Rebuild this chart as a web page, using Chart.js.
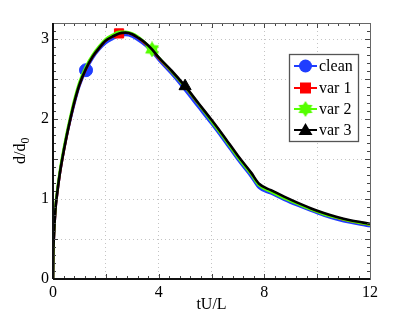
<!DOCTYPE html>
<html lang="en">
<head>
    <meta charset="UTF-8">
    <title>d/d0 vs tU/L</title>
    <script src="https://cdn.jsdelivr.net/npm/chart.js"></script>
    <style>
        html, body { margin: 0; padding: 0; background: #ffffff; }
        #wrap { width: 409px; height: 315px; }
    </style>
</head>
<body>
    <div id="wrap"><canvas id="chart" width="409" height="315"></canvas></div>

    <script>
        // data
        const xs = [0, 0.01, 0.03, 0.06, 0.1, 0.15, 0.25, 0.35, 0.5, 0.65, 0.8, 1.0, 1.25, 1.5, 1.75, 2.0, 2.25, 2.5, 2.75, 3.0, 3.25, 3.5, 3.75, 4.0, 4.5, 5.0, 5.5, 6.0, 6.5, 7.0, 7.5, 7.8, 8.25, 8.75, 9.25, 9.75, 10.25, 10.75, 11.25, 11.75, 12.0];
        const cleanVals = [0, 0.3, 0.5, 0.7, 0.9, 1.05, 1.3, 1.5, 1.76, 1.98, 2.18, 2.41, 2.61, 2.76, 2.87, 2.95, 3.0, 3.04, 3.05, 3.03, 2.98, 2.92, 2.84, 2.74, 2.56, 2.36, 2.15, 1.94, 1.72, 1.49, 1.28, 1.14, 1.07, 0.99, 0.92, 0.855, 0.795, 0.745, 0.705, 0.675, 0.66];
        const var1Vals = [0, 0.3, 0.5, 0.7, 0.9, 1.05, 1.3, 1.5, 1.76, 1.99, 2.2, 2.43, 2.63, 2.78, 2.89, 2.98, 3.03, 3.07, 3.08, 3.06, 3.01, 2.94, 2.86, 2.76, 2.59, 2.4, 2.19, 1.98, 1.76, 1.53, 1.32, 1.18, 1.1, 1.02, 0.945, 0.875, 0.815, 0.765, 0.725, 0.695, 0.68];
        const var2Vals = [0, 0.32, 0.53, 0.73, 0.93, 1.08, 1.33, 1.53, 1.79, 2.02, 2.23, 2.46, 2.66, 2.8, 2.91, 3.0, 3.05, 3.09, 3.09, 3.07, 3.02, 2.95, 2.87, 2.77, 2.59, 2.4, 2.19, 1.97, 1.75, 1.52, 1.31, 1.17, 1.09, 1.01, 0.94, 0.87, 0.81, 0.765, 0.725, 0.695, 0.68];
        const var3Vals = [0, 0.3, 0.5, 0.7, 0.9, 1.05, 1.3, 1.5, 1.76, 1.99, 2.2, 2.43, 2.63, 2.78, 2.89, 2.98, 3.03, 3.07, 3.08, 3.06, 3.01, 2.95, 2.87, 2.77, 2.6, 2.41, 2.2, 1.99, 1.77, 1.54, 1.33, 1.19, 1.11, 1.03, 0.955, 0.885, 0.825, 0.775, 0.735, 0.705, 0.69];
        const seriesNames = ['clean', 'var 1', 'var 2', 'var 3'];
        const markerAt = [1.25, 2.5, 3.75, 5.0];
        const xTickLabels = [0, 4, 8, 12];
        const yTickLabels = [0, 1, 2, 3];

        const FONT = '"Liberation Serif", "Times New Roman", serif';
        const colors = ['#1f3dff', '#ff0000', '#55ff00', '#000000'];

        // filled six point star (MATLAB hexagram look)
        function makeStar(size, color) {
            const c = document.createElement('canvas');
            c.width = size; c.height = size;
            const g = c.getContext('2d');
            const cx = size / 2, cy = size / 2, ro = size / 2, ri = size / 3.3;
            g.beginPath();
            for (let i = 0; i < 12; i++) {
                const a = -Math.PI / 2 + i * Math.PI / 6;
                const r = i % 2 === 0 ? ro : ri;
                g.lineTo(cx + r * Math.cos(a), cy + r * Math.sin(a));
            }
            g.closePath();
            g.fillStyle = color;
            g.fill();
            return c;
        }
        const starImg = makeStar(16, colors[2]);

        const styles = ['circle', 'rect', starImg, 'triangle'];
        const radii = [6.5, 6.5, 8, 7];
        const allVals = [cleanVals, var1Vals, var2Vals, var3Vals];

        const datasets = seriesNames.map((name, k) => ({
            label: name,
            data: xs.map((x, i) => ({ x: x, y: allVals[k][i] })),
            borderColor: colors[k],
            backgroundColor: colors[k],
            borderWidth: 2.6,
            pointStyle: styles[k],
            pointRadius: xs.map(x => x === markerAt[k] ? radii[k] : 0),
            pointBorderWidth: 1,
            pointBorderColor: colors[k],
            pointBackgroundColor: colors[k],
            cubicInterpolationMode: 'monotone',
            order: 3 - k
        }));

        // inward major/minor ticks on all four sides, box, titles and legend
        const framePlugin = {
            id: 'frame',
            afterDraw(chart) {
                const ctx = chart.ctx;
                const a = chart.chartArea;
                const sx = chart.scales.x, sy = chart.scales.y;
                ctx.save();
                ctx.strokeStyle = '#444';
                ctx.lineWidth = 1;
                for (let v = 0; v <= 12.001; v += 0.4) {
                    const px = Math.round(sx.getPixelForValue(v)) + 0.5;
                    const major = Math.abs(v / 2 - Math.round(v / 2)) < 0.01;
                    const len = major ? 5 : 3;
                    ctx.beginPath();
                    ctx.moveTo(px, a.bottom); ctx.lineTo(px, a.bottom - len);
                    ctx.moveTo(px, a.top); ctx.lineTo(px, a.top + len);
                    ctx.stroke();
                }
                for (let v = 0; v <= 3.2001; v += 0.1) {
                    const py = Math.round(sy.getPixelForValue(v)) + 0.5;
                    const major = Math.abs(v * 2 - Math.round(v * 2)) < 0.01;
                    const len = major ? 5 : 3;
                    ctx.beginPath();
                    ctx.moveTo(a.left, py); ctx.lineTo(a.left + len, py);
                    ctx.moveTo(a.right, py); ctx.lineTo(a.right - len, py);
                    ctx.stroke();
                }
                ctx.strokeStyle = '#666';
                ctx.strokeRect(Math.round(a.left) + 0.5, Math.round(a.top) + 0.5,
                    Math.round(a.right - a.left), Math.round(a.bottom - a.top));
                ctx.strokeStyle = '#111';
                ctx.lineWidth = 2;
                ctx.beginPath();
                ctx.moveTo(a.left, a.bottom); ctx.lineTo(a.right, a.bottom);
                ctx.moveTo(a.left, a.bottom); ctx.lineTo(a.left, a.top);
                ctx.stroke();

                // axis titles
                ctx.fillStyle = '#000';
                ctx.font = '16px ' + FONT;
                ctx.textAlign = 'center';
                ctx.textBaseline = 'alphabetic';
                ctx.fillText('tU/L', (a.left + a.right) / 2, 309);

                ctx.save();
                ctx.translate(25, 164);
                ctx.rotate(-Math.PI / 2);
                ctx.textAlign = 'left';
                ctx.font = '16px ' + FONT;
                ctx.fillText('d/d', 0, 0);
                const w = ctx.measureText('d/d').width;
                ctx.font = '12px ' + FONT;
                ctx.fillText('0', w, 4);
                ctx.restore();

                // legend box
                const lx = 289, ly = 54, lw = 69, lh = 87;
                ctx.fillStyle = '#fff';
                ctx.fillRect(lx, ly, lw, lh);
                ctx.strokeStyle = '#555';
                ctx.lineWidth = 1.3;
                ctx.strokeRect(lx + 0.5, ly + 0.5, lw, lh);
                const rows = [66, 88, 109, 130];
                chart.data.datasets.forEach((ds, k) => {
                    const y = rows[k];
                    ctx.strokeStyle = ds.borderColor;
                    ctx.fillStyle = ds.borderColor;
                    ctx.lineWidth = 2;
                    ctx.beginPath();
                    ctx.moveTo(294, y); ctx.lineTo(317, y);
                    ctx.stroke();
                    const cx = 305.5;
                    ctx.beginPath();
                    if (k === 0) {
                        ctx.arc(cx, y, 6.5, 0, Math.PI * 2);
                        ctx.fill();
                    } else if (k === 1) {
                        ctx.fillRect(cx - 5.5, y - 5.5, 11, 11);
                    } else if (k === 2) {
                        ctx.drawImage(starImg, cx - 8, y - 8);
                    } else {
                        ctx.moveTo(cx, y - 7);
                        ctx.lineTo(cx + 7, y + 5);
                        ctx.lineTo(cx - 7, y + 5);
                        ctx.closePath();
                        ctx.fill();
                    }
                    ctx.fillStyle = '#000';
                    ctx.font = '16px ' + FONT;
                    ctx.textAlign = 'left';
                    ctx.textBaseline = 'middle';
                    ctx.fillText(ds.label, 319, y + 1);
                });
                ctx.restore();
            }
        };

        new Chart(document.getElementById('chart'), {
            type: 'line',
            data: { datasets: datasets },
            options: {
                responsive: false,
                animation: false,
                events: [],
                layout: { padding: { top: 23, right: 39, left: 0, bottom: 0 } },
                plugins: {
                    legend: { display: false },
                    tooltip: { enabled: false }
                },
                scales: {
                    x: {
                        type: 'linear',
                        min: 0, max: 12,
                        afterFit(s) { s.height = 36; },
                        afterBuildTicks(s) {
                            s.ticks = [0, 2, 4, 6, 8, 10, 12].map(v => ({ value: v }));
                        },
                        ticks: {
                            autoSkip: false,
                            maxRotation: 0,
                            padding: 4,
                            color: '#000',
                            font: { family: FONT, size: 16 },
                            callback: v => xTickLabels.includes(v) ? String(v) : ''
                        },
                        grid: { color: '#c4c4c4', lineWidth: 1, drawTicks: false },
                        border: { display: false, dash: [1, 3] }
                    },
                    y: {
                        type: 'linear',
                        min: 0, max: 3.2,
                        afterFit(s) { s.width = 53; },
                        afterBuildTicks(s) {
                            s.ticks = [0, 0.5, 1, 1.5, 2, 2.5, 3].map(v => ({ value: v }));
                        },
                        ticks: {
                            autoSkip: false,
                            padding: 4,
                            color: '#000',
                            font: { family: FONT, size: 16 },
                            callback: v => yTickLabels.includes(v) ? String(v) : ''
                        },
                        grid: { color: '#c4c4c4', lineWidth: 1, drawTicks: false },
                        border: { display: false, dash: [1, 3] }
                    }
                }
            },
            plugins: [framePlugin]
        });
    </script>
</body>
</html>
